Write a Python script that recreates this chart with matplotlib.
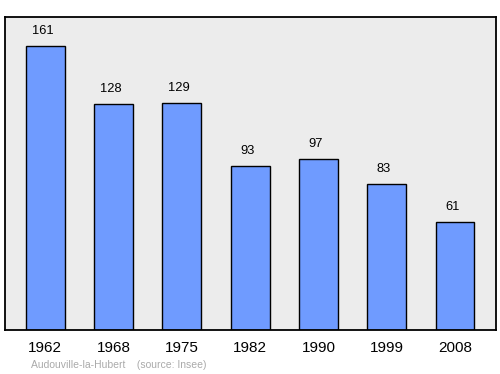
import matplotlib
matplotlib.use("Agg")
import matplotlib.pyplot as plt

years = ["1962", "1968", "1975", "1982", "1990", "1999", "2008"]
population = [161, 128, 129, 93, 97, 83, 61]

plt.rcParams['font.family'] = ['Liberation Sans', 'DejaVu Sans']

fig = plt.figure(figsize=(5.0, 3.74), dpi=100)
ax = fig.add_axes([5 / 500, 1 - 330 / 374, 491 / 500, 313 / 374])
ax.set_facecolor('#ececec')

pos = range(len(years))
ax.bar(pos, population, width=0.57, color='#6f9bff', edgecolor='black', linewidth=1.0)
for x, v in zip(pos, population):
    ax.text(x - 0.04, v + 8.5, str(v), ha='center', va='center', fontsize=9.3)

ax.set_xlim(-0.59, 6.6)
ax.set_ylim(0, 177.5)
ax.set_yticks([])
ax.set_xticks(list(pos))
ax.set_xticklabels(years, fontsize=11)
ax.tick_params(axis='x', length=0, pad=8)
for s in ax.spines.values():
    s.set_linewidth(1.3)

fig.text(31 / 500, 1 - 365 / 374, "Audouville-la-Hubert    (source: Insee)",
         fontsize=7.5, color='#aaaaaa', va='center')

fig.savefig("out.png", dpi=100)
